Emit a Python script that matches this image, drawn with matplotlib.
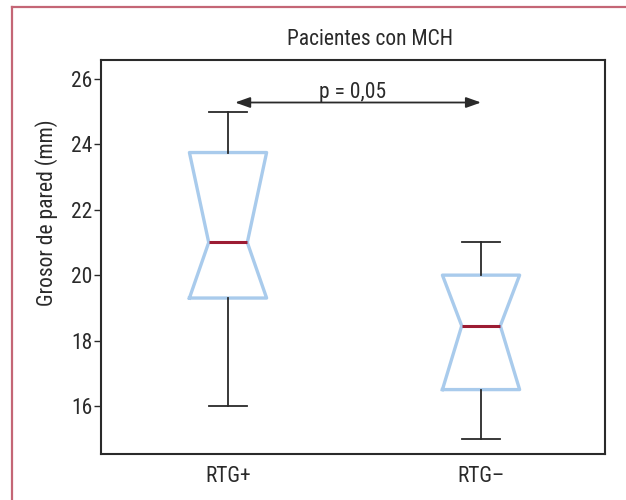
import matplotlib
matplotlib.use("Agg")
import matplotlib.pyplot as plt
from matplotlib.lines import Line2D
from matplotlib import font_manager

names = {f.name for f in font_manager.fontManager.ttflist}
fam = [n for n in ['Roboto Condensed', 'Liberation Sans Narrow', 'Arial Narrow', 'Liberation Sans']
       if n in names] + ['DejaVu Sans']
plt.rcParams['font.family'] = fam

categories = ["RTG+", "RTG\u2013"]
whisker_low = [16.0, 15.0]
q1 = [19.3, 16.5]
medians = [21.0, 18.45]
q3 = [23.75, 20.0]
whisker_high = [25.0, 21.0]
yticks = [16, 18, 20, 22, 24, 26]
p_text = "p = 0,05"
title = "Pacientes con MCH"
ylabel = "Grosor de pared (mm)"

W, H = 626, 500
fig = plt.figure(figsize=(W / 100, H / 100), dpi=100)
fig.patch.set_facecolor('white')

red = '#c46676'
fig.add_artist(Line2D([11.5 / W, 11.5 / W], [0, 1 - 6.5 / H], transform=fig.transFigure,
                      color=red, lw=1.6))
fig.add_artist(Line2D([11.5 / W, 1], [1 - 6.5 / H, 1 - 6.5 / H], transform=fig.transFigure,
                      color=red, lw=1.6))

ax = fig.add_axes([101 / W, 1 - 454 / H, 504 / W, 394 / H])

stats = []
for i, c in enumerate(categories):
    stats.append(dict(label=c, whislo=whisker_low[i], q1=q1[i], med=medians[i],
                      q3=q3[i], whishi=whisker_high[i], cilo=q1[i], cihi=q3[i],
                      fliers=[]))

blue = '#a9cbec'
dark = '#2a2a2a'
ax.bxp(stats, positions=[1, 2], widths=0.305, shownotches=True, showfliers=False,
       capwidths=0.15,
       boxprops=dict(color=blue, linewidth=2.4),
       medianprops=dict(color='#9c1c33', linewidth=2.2),
       whiskerprops=dict(color=dark, linewidth=1.3),
       capprops=dict(color=dark, linewidth=1.3))

ax.set_xlim(0.498, 2.49)
ax.set_ylim(14.53, 26.58)
ax.set_yticks(yticks)
ax.set_yticklabels([str(t) for t in yticks])
fs = 15.5
tc = '#2a2a2a'
ax.tick_params(axis='y', length=5, width=1.0, color=dark, pad=1, labelsize=fs,
               labelcolor=tc)
ax.tick_params(axis='x', length=0, pad=9, labelsize=fs, labelcolor=tc)
for s in ax.spines.values():
    s.set_color(dark)
    s.set_linewidth(1.5)

ax.set_title(title, x=(370 - 101) / 504, pad=11, fontsize=fs, color=tc)
ax.set_ylabel(ylabel, fontsize=fs, color=tc)
ax.yaxis.set_label_coords((58 - 101) / 504, (454 - 213) / 394)

ax.annotate('', xy=(2.0, 25.28), xytext=(1.028, 25.28),
            arrowprops=dict(arrowstyle='<|-|>,head_length=0.9,head_width=0.32',
                            mutation_scale=10, color=dark, lw=1.3,
                            shrinkA=0, shrinkB=0))
ax.text(1.494, 25.58, p_text, ha='center', va='center', fontsize=fs, color=tc)

fig.savefig('out.png', dpi=100, facecolor='white')
